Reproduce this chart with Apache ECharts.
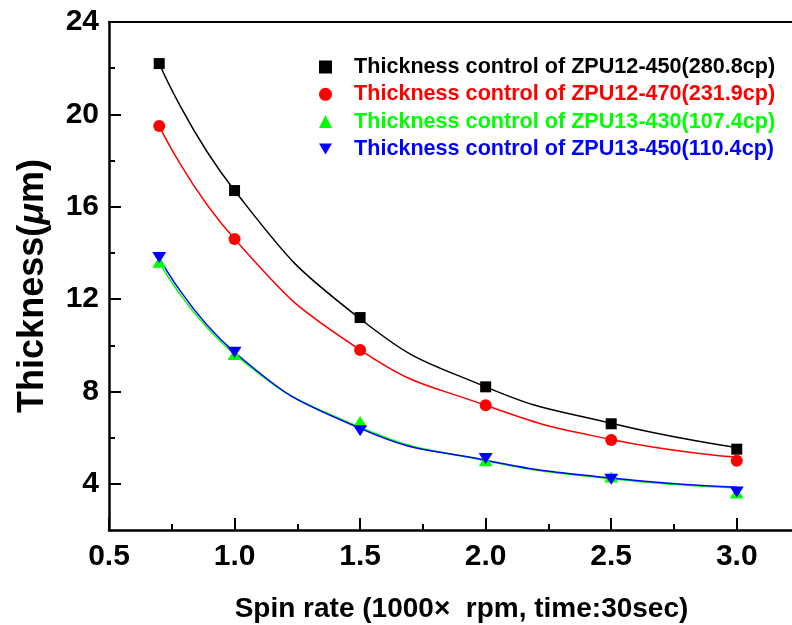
<!DOCTYPE html>
<html><head><meta charset="utf-8">
<script src="https://cdn.jsdelivr.net/npm/echarts@6/dist/echarts.min.js"></script>
<style>html,body{margin:0;padding:0;background:#fff}#c{width:792px;height:625px}</style>
</head><body><div id="c"></div>
<script>
// ---- data ----
const spinRate = [0.7, 1.0, 1.5, 2.0, 2.5, 3.0];
const seriesNames = [
  'Thickness control of ZPU12-450(280.8cp)',
  'Thickness control of ZPU12-470(231.9cp)',
  'Thickness control of ZPU13-430(107.4cp)',
  'Thickness control of ZPU13-450(110.4cp)'
];
// measured points
const zpu12_450 = [22.2, 16.7, 11.2, 8.2, 6.6, 5.5];
const zpu12_470 = [19.5, 14.6, 9.8, 7.4, 5.9, 5.0];
const zpu13_430 = [13.6, 9.6, 6.7, 5.0, 4.3, 3.6];
const zpu13_450 = [13.8, 9.7, 6.3, 5.1, 4.2, 3.65];
// fitted curve values at the same spin rates
const fit12_450 = [22.2, 16.7, 11.15, 8.2, 6.62, 5.57];
const fit12_470 = [19.5, 14.6, 9.8, 7.4, 5.92, 5.15];
const fit13_430 = [13.6, 9.62, 6.45, 5.0, 4.22, 3.82];
const fit13_450 = [13.8, 9.7, 6.4, 5.02, 4.25, 3.85];
// ticks
const xTickValues = [0.5, 1.0, 1.5, 2.0, 2.5, 3.0];
const xMinorTicks = [0.75, 1.25, 1.75, 2.25, 2.75];
const yTickValues = [4, 8, 12, 16, 20, 24];
const yMinorTicks = [6, 10, 14, 18, 22];

const colors = ['#000000', '#ff0000', '#00ff00', '#0000ff'];
const downTri = 'path://M0,0L20,0L10,17Z';
const symbols = ['rect', 'circle', 'triangle', downTri];
const symSizes = [11, 12, [14, 11], [14, 11]];
const points = [zpu12_450, zpu12_470, zpu13_430, zpu13_450];
const fits = [fit12_450, fit12_470, fit13_430, fit13_450];

const FONT = "'Liberation Sans', Arial, sans-serif";
const xMin = 0.5, xMax = 3.22, yMin = 2, yMax = 24;

const pair = (xs, ys) => xs.map((x, i) => [x, ys[i]]);

const series = [];
for (let i = 0; i < 4; i++) {
  series.push({
    name: 'fit' + i, type: 'line', smooth: 0.5, showSymbol: false, silent: true,
    data: pair(spinRate, fits[i]),
    lineStyle: { color: colors[i], width: 1.5 }, z: 2 + i
  });
}
for (let i = 0; i < 4; i++) {
  series.push({
    name: seriesNames[i], type: 'scatter', symbol: symbols[i], symbolSize: symSizes[i],
    data: pair(spinRate, points[i]),
    itemStyle: { color: colors[i], opacity: 1 }, z: 10 + i
  });
}

const chart = echarts.init(document.getElementById('c'), null, { renderer: 'canvas' });
chart.setOption({
  animation: false,
  backgroundColor: '#fff',
  textStyle: { fontFamily: FONT },
  grid: { left: 109, top: 22, right: 0, bottom: 95, containLabel: false, outerBoundsMode: 'none' },
  legend: {
    orient: 'vertical', left: 314, top: 51,
    itemWidth: 13, itemHeight: 13, itemGap: 5.3,
    textStyle: { fontFamily: FONT, fontSize: 21.6, fontWeight: 'bold', lineHeight: 22, padding: [0, 0, 0, 17] },
    data: seriesNames.map((n, i) => ({ name: n, icon: symbols[i], textStyle: { color: colors[i] } }))
  },
  xAxis: [
    {
      type: 'value', position: 'bottom', min: xMin, max: xMax,
      name: 'Spin rate (1000\u00d7  rpm, time:30sec)', nameLocation: 'middle', nameGap: 65,
      nameTextStyle: { fontFamily: FONT, fontSize: 28, fontWeight: 'bold', color: '#000', padding: [0, 0, 0, 22] },
      axisLine: { onZero: false, lineStyle: { color: '#000', width: 2.5 } },
      axisTick: { inside: true, length: 12, customValues: xTickValues, lineStyle: { color: '#000', width: 2 } },
      axisLabel: { customValues: xTickValues, formatter: v => v.toFixed(1), fontFamily: FONT, fontSize: 30, fontWeight: 'bold', color: '#000', margin: 12 },
      splitLine: { show: false }
    },
    {
      type: 'value', position: 'bottom', min: xMin, max: xMax,
      axisLine: { show: false },
      axisTick: { inside: true, length: 6, customValues: xMinorTicks, lineStyle: { color: '#000', width: 2 } },
      axisLabel: { show: false }, splitLine: { show: false }
    },
    {
      type: 'value', position: 'top', min: xMin, max: xMax,
      axisLine: { onZero: false, lineStyle: { color: '#000', width: 2 } },
      axisTick: { show: false }, axisLabel: { show: false }, splitLine: { show: false }
    }
  ],
  yAxis: [
    {
      type: 'value', position: 'left', min: yMin, max: yMax,
      name: 'Thickness({it|\u03bc}m)', nameLocation: 'middle', nameGap: 58,
      nameTextStyle: {
        fontFamily: FONT, fontSize: 36, fontWeight: 'bold', color: '#000', padding: [0, 20, 0, 0],
        rich: { it: { fontFamily: FONT, fontSize: 36, fontWeight: 'bold', fontStyle: 'italic', color: '#000' } }
      },
      axisLine: { onZero: false, lineStyle: { color: '#000', width: 2.5 } },
      axisTick: { inside: true, length: 12, customValues: yTickValues, lineStyle: { color: '#000', width: 2 } },
      axisLabel: { customValues: yTickValues, fontFamily: FONT, fontSize: 30, fontWeight: 'bold', color: '#000', margin: 10 },
      splitLine: { show: false }
    },
    {
      type: 'value', position: 'left', min: yMin, max: yMax,
      axisLine: { show: false },
      axisTick: { inside: true, length: 6, customValues: yMinorTicks, lineStyle: { color: '#000', width: 2 } },
      axisLabel: { show: false }, splitLine: { show: false }
    }
  ],
  series: series
});
</script></body></html>
